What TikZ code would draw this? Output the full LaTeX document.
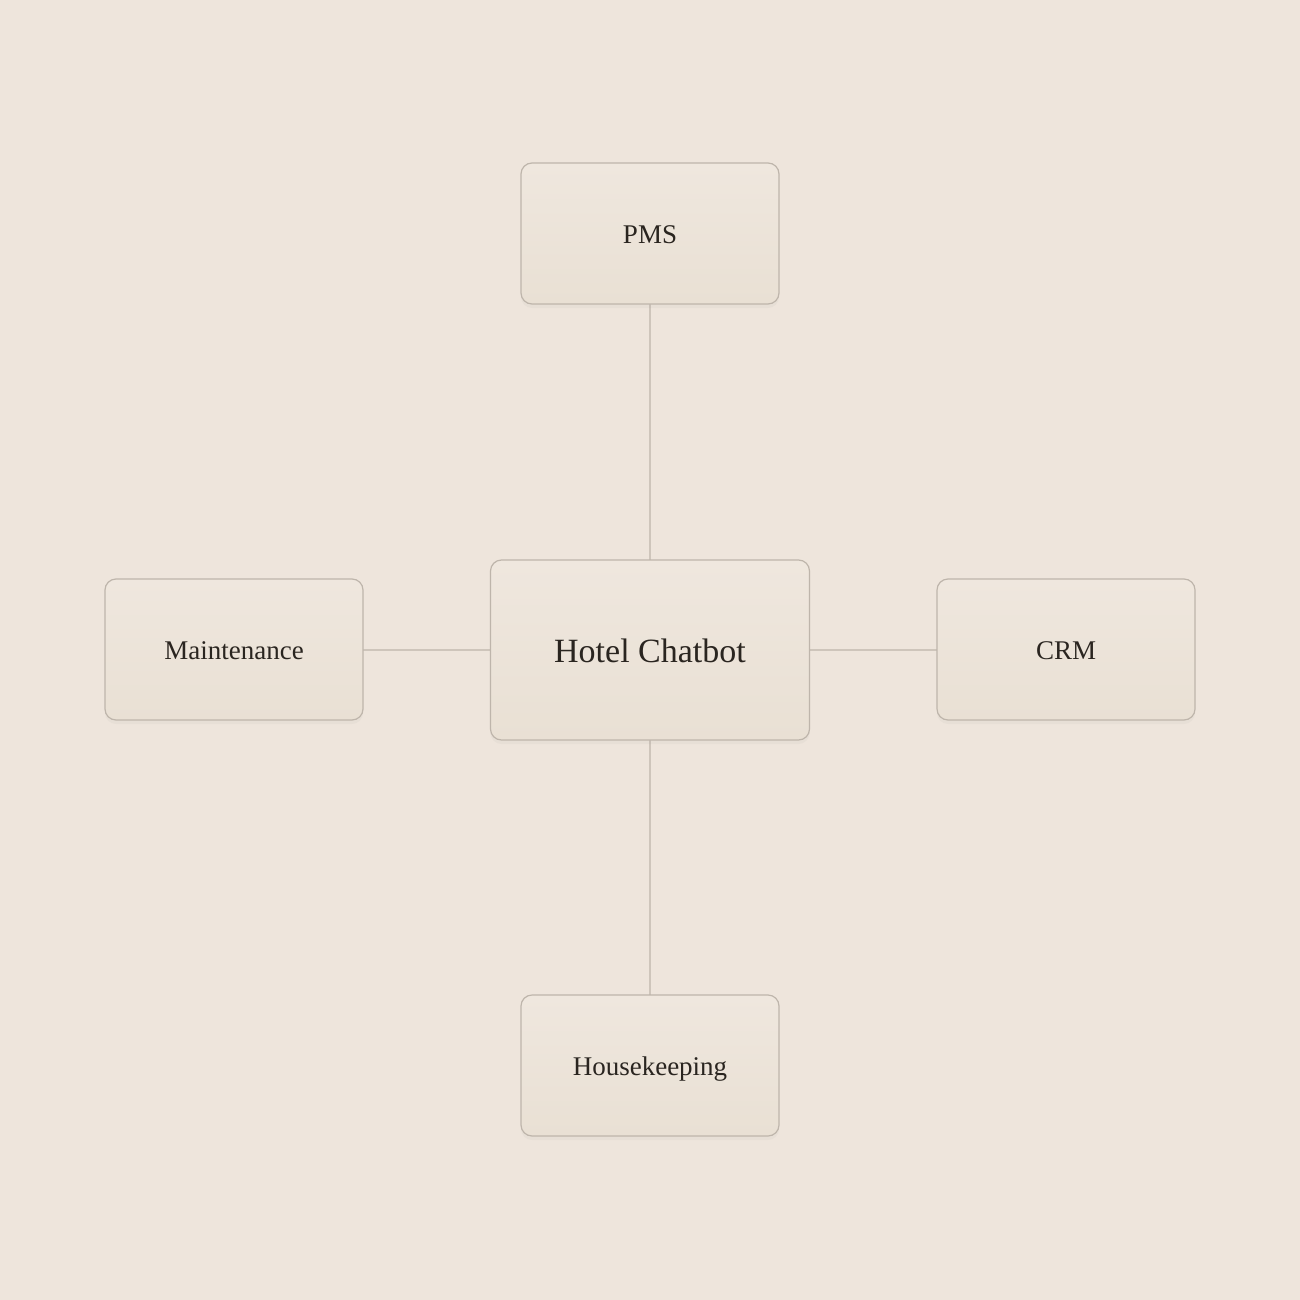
\documentclass[tikz,border=0pt]{standalone}
\usepackage{fontspec}
\setmainfont{Liberation Serif}
\usetikzlibrary{shadows}
\definecolor{paper}{HTML}{EEE5DC}
\definecolor{boxtop}{HTML}{EFE7DE}
\definecolor{boxbot}{HTML}{E9E0D4}
\definecolor{boxline}{HTML}{BEB5AB}
\definecolor{wire}{HTML}{CEC5BB}
\definecolor{ink}{HTML}{2A2520}
\begin{document}
\begin{tikzpicture}[x=0.5pt,y=-0.5pt,
  unit/.style={draw=boxline,line width=0.6pt,rounded corners=5.5pt,
    top color=boxtop,bottom color=boxbot,text=ink,
    minimum width=129pt,minimum height=70.5pt,inner sep=0pt,
    text height=9.5pt,text depth=0pt,
    font=\fontsize{13.5}{16}\selectfont,
    drop shadow={opacity=0.06,shadow xshift=0pt,shadow yshift=-2pt}},
  hub/.style={unit,minimum width=159.5pt,minimum height=90pt,
    text height=12pt,font=\fontsize{17}{20}\selectfont},
  wire/.style={draw=wire,line width=0.6pt}]
\fill[paper] (0,0) rectangle (1300,1300);
\useasboundingbox (0,0) rectangle (1300,1300);
% links first, boxes on top
\draw[wire] (650,304) -- (650,995);
\draw[wire] (363,650) -- (937,650);
\node[hub] (chatbot) at (650,650) {Hotel Chatbot};
\node[unit] (pms) at (650,233.5) {PMS};
\node[unit] (maint) at (234,649.5) {Maintenance};
\node[unit] (crm) at (1066,649.5) {CRM};
\node[unit] (house) at (650,1065.5) {Housekeeping};
\end{tikzpicture}
\end{document}
